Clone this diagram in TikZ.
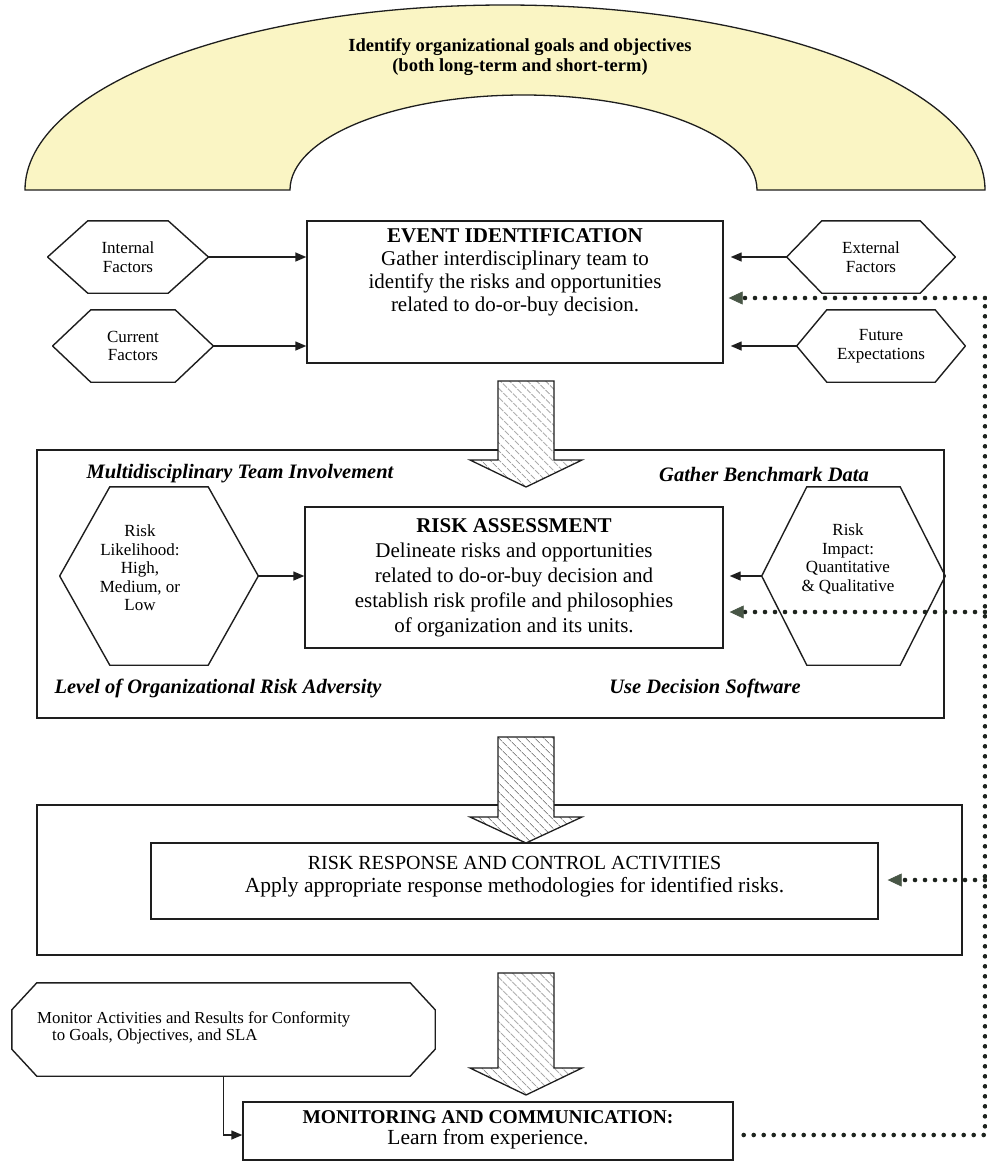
\documentclass[tikz,border=0pt]{standalone}
\usepackage{fontspec}
\setmainfont{Liberation Serif}
\usetikzlibrary{arrows.meta,patterns.meta,calc}

\definecolor{arcfill}{RGB}{250,245,196}
\definecolor{inkline}{RGB}{30,30,30}
\definecolor{dotink}{RGB}{30,36,30}
\definecolor{tipink}{RGB}{72,86,70}
\definecolor{hatch}{RGB}{140,140,140}

% font size helper: size / leading in pt
\newcommand\fs[2]{\fontsize{#1pt}{#2pt}\selectfont}

% outline with cut corners around a node: node, horizontal cut, vertical cut
% (a vertical cut of half the height gives a hexagon)
\newcommand\cutframe[3]{%
  \draw[frame] ([xshift=#2]#1.north west) -- ([xshift=-#2]#1.north east)
    -- ([yshift=-#3]#1.north east) -- ([yshift=#3]#1.south east)
    -- ([xshift=-#2]#1.south east) -- ([xshift=#2]#1.south west)
    -- ([yshift=#3]#1.south west) -- ([yshift=-#3]#1.north west) -- cycle;}

% hatched block arrow: centre x, top, shoulder, tip
\newcommand\blockarrow[4]{%
  \draw[blockarrow] (#1-28,#2) -- (#1+28,#2) -- (#1+28,#3) -- (#1+56,#3)
    -- (#1,#4) -- (#1-56,#3) -- (#1-28,#3) -- cycle;}

\begin{document}
\begin{tikzpicture}[x=1pt,y=-1pt,
  frame/.style={draw=inkline, line width=1.4pt, line join=miter},
  box/.style={frame, fill=white, inner sep=0pt},
  area/.style={draw=inkline, line width=1.3pt, inner sep=0pt},
  txt/.style={inner sep=0pt, align=center, text=black},
  hexnode/.style={inner sep=0pt, align=center, font=\fs{17}{18.5}},
  sidelabel/.style={inner sep=0pt, font=\fs{20.5}{22}\bfseries\itshape},
  feed/.style={draw=dotink, line width=4.6pt, line cap=round, dash pattern=on 0pt off 10pt},
  feedtip/.style={-{Triangle[length=14pt,width=13pt,fill=tipink,color=tipink,line width=0.6pt]}},
  link/.style={draw=inkline, line width=1.4pt, -{Triangle[length=11pt,width=9pt]}},
  blockarrow/.style={draw=inkline, line width=1.3pt, line join=miter,
    preaction={fill=white},
    pattern={Lines[angle=-45,distance=6.5pt,line width=0.9pt]}, pattern color=hatch},
]
\useasboundingbox (0,0) rectangle (987,1173);
\fill[white] (0,0) rectangle (987,1173);

% goals arch
\path[draw=inkline, line width=1.3pt, fill=arcfill]
  (25,190) arc[start angle=180, end angle=360, x radius=480, y radius=185]
  -- (757,190) arc[start angle=0, end angle=-180, x radius=233.5, y radius=95] -- cycle;
\node[txt, font=\fs{18.5}{20}\bfseries] (goals) at (520,57)
  {Identify organizational goals and objectives\\(both long-term and short-term)};

% surrounding frames of the assessment and response stages
\node[area, minimum width=907pt, minimum height=268pt] (raframe) at (490.5,584) {};
\node[area, minimum width=925pt, minimum height=150pt] (rrframe) at (499.5,880) {};

% hatched flow arrows between stages
\blockarrow{526}{381}{460}{487}
\blockarrow{526}{737}{817}{843}
\blockarrow{526}{973}{1068}{1095}

% event identification
\node[box, minimum width=416pt, minimum height=142pt] (evt) at (515,292) {};
\node[txt, font=\fs{21}{23}] (evt-t) at (515,272)
  {\textbf{EVENT IDENTIFICATION}\\Gather interdisciplinary team to\\identify the risks and opportunities\\related to do-or-buy decision.};

\node[hexnode, minimum width=160pt, minimum height=72pt] (intf) at (128,257) {Internal\\Factors};
\cutframe{intf}{40pt}{36pt}
\node[hexnode, minimum width=160pt, minimum height=72pt] (curf) at (133,346) {Current\\Factors};
\cutframe{curf}{38pt}{36pt}
\node[hexnode, minimum width=168pt, minimum height=72pt] (extf) at (871,257) {External\\Factors};
\cutframe{extf}{35pt}{36pt}
\node[hexnode, minimum width=168pt, minimum height=72pt] (futf) at (881,346) {Future\\Expectations};
\cutframe{futf}{30pt}{36pt}

\draw[link] (intf.east) -- (intf.east -| evt.west);
\draw[link] (curf.east) -- (curf.east -| evt.west);
\draw[link, shorten >=7pt] (extf.west) -- (extf.west -| evt.east);
\draw[link, shorten >=7pt] (futf.west) -- (futf.west -| evt.east);

% risk assessment
\node[box, minimum width=418pt, minimum height=141pt] (ra) at (514,577.5) {};
\node[txt, font=\fs{21}{25}] (ra-t) at (514,578)
  {\textbf{RISK ASSESSMENT}\\Delineate risks and opportunities\\related to do-or-buy decision and\\establish risk profile and philosophies\\of organization and its units.};

\node[hexnode, minimum width=198pt, minimum height=178pt] (rlik) at (159,576) {};
\cutframe{rlik}{50pt}{89pt}
\node[hexnode] (rlik-t) at (140,568) {Risk\\Likelihood:\\High,\\Medium, or\\Low};
\node[hexnode, minimum width=183pt, minimum height=178pt] (rimp) at (853.5,576) {};
\cutframe{rimp}{45pt}{89pt}
\node[hexnode] (rimp-t) at (848,559) {Risk\\Impact:\\Quantitative\\\& Qualitative};

\node[sidelabel] (lbl-team) at (240,474) {Multidisciplinary Team Involvement};
\node[sidelabel] (lbl-bench) at (764,474) {Gather Benchmark Data};
\node[sidelabel] (lbl-adv) at (218,688) {Level of Organizational Risk Adversity};
\node[sidelabel] (lbl-soft) at (705,688) {Use Decision Software};

\draw[link] (rlik.east) -- (rlik.east -| ra.west);
\draw[link, shorten >=6pt] (rimp.west) -- (rimp.west -| ra.east);

% risk response
\node[box, minimum width=727pt, minimum height=76pt] (rr) at (514.5,881) {};
\node[txt, font=\fs{21.5}{23}] (rr-t) at (514.5,876.5)
  {{\fs{20}{23}RISK RESPONSE AND CONTROL ACTIVITIES}\\Apply appropriate response methodologies for identified risks.};

% monitoring
\node[inner sep=0pt, minimum width=423pt, minimum height=93pt] (monact) at (223.5,1029.5) {};
\cutframe{monact}{25pt}{27pt}
\node[inner sep=0pt, align=left, anchor=west, font=\fs{16.8}{17}] (monact-t) at (37,1028)
  {Monitor Activities and Results for Conformity\\\hspace*{15pt}to Goals, Objectives, and SLA};

\node[box, minimum width=490pt, minimum height=58pt] (mon) at (488,1131) {};
\node[txt, font=\fs{21.5}{21}] (mon-t) at (488,1130)
  {{\fs{19.5}{21}\bfseries MONITORING AND COMMUNICATION:}\\Learn from experience.};

\draw[link] (monact.south) |- ([yshift=-4pt]mon.west);

% feedback loop
\coordinate (fbT) at (985,298);
\coordinate (fbRA) at (985,612);
\coordinate (fbRR) at (985,880);
\coordinate (fbB) at (985,1135);
\draw[feed] ([xshift=10pt]fbB -| mon.east) -- (fbB) -- (fbT);
\draw[feed, feedtip, shorten >=5pt] (fbT) -- (fbT -| evt.east);
\draw[feed, feedtip, shorten >=6pt] (fbRA) -- (fbRA -| ra.east);
\draw[feed, feedtip, shorten >=9pt] (fbRR) -- (fbRR -| rr.east);
\end{tikzpicture}
\end{document}
